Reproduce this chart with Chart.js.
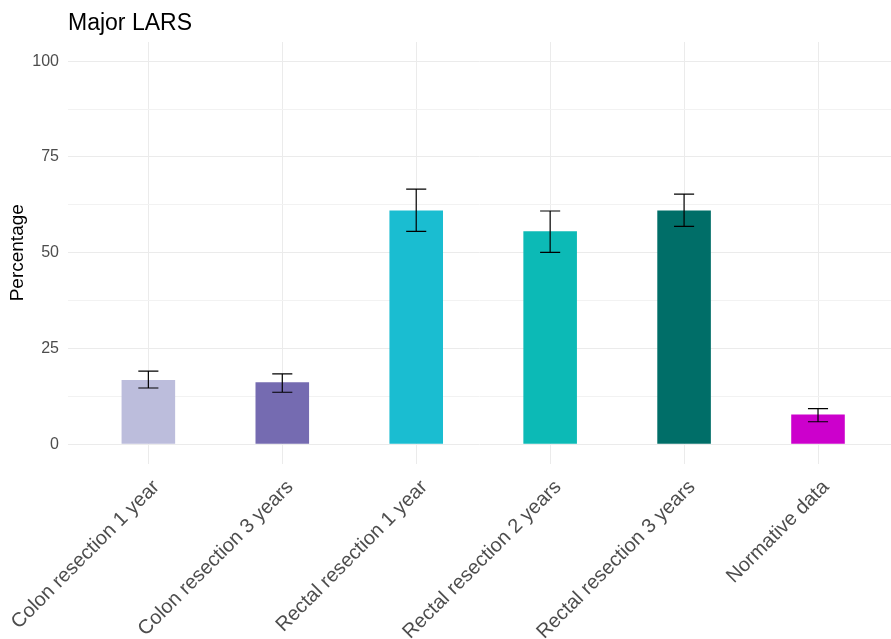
<!DOCTYPE html>
<html>
<head>
<meta charset="utf-8">
<script src="https://cdn.jsdelivr.net/npm/chart.js@4"></script>
<style>
  html, body { margin: 0; padding: 0; background: #fff; overflow: hidden; }
  #wrap { width: 891px; height: 639px; }
</style>
</head>
<body>
<div id="wrap"><canvas id="myChart" width="891" height="639"></canvas></div>
<script>
// categories and values
const categories = ["Colon resection 1 year", "Colon resection 3 years", "Rectal resection 1 year",
    "Rectal resection 2 years", "Rectal resection 3 years", "Normative data"];
const values = [16.8, 16.2, 61.0, 55.6, 61.0, 7.8];
const errLow = [14.7, 13.6, 55.6, 50.1, 56.9, 5.9];
const errHigh = [19.1, 18.4, 66.6, 60.9, 65.3, 9.3];
const barColors = ['#bcbddc', '#756bb1', '#1abdd1', '#0cbab6', '#006e68', '#cc00cc'];
const yTicks = [0, 25, 50, 75, 100];
const yMinor = [12.5, 37.5, 62.5, 87.5];

const FONT = "'Liberation Sans', Arial, sans-serif";

// error bars drawn through the chart scales
const errorBars = {
    id: 'errorBars',
    afterDatasetsDraw(chart) {
        const c = chart.ctx, x = chart.scales.x, y = chart.scales.y;
        c.save();
        c.strokeStyle = '#000';
        c.lineWidth = 1.2;
        for (let i = 0; i < values.length; i++) {
            const px = x.getPixelForValue(i);
            const l = x.getPixelForValue(i - 0.075), r = x.getPixelForValue(i + 0.075);
            const yt = y.getPixelForValue(errHigh[i]), yb = y.getPixelForValue(errLow[i]);
            c.beginPath();
            c.moveTo(px, yt); c.lineTo(px, yb);
            c.moveTo(l, yt); c.lineTo(r, yt);
            c.moveTo(l, yb); c.lineTo(r, yb);
            c.stroke();
        }
        c.restore();
    }
};

// title placed on the panel's left edge, like ggplot
const plotTitle = {
    id: 'plotTitle',
    afterDraw(chart) {
        const c = chart.ctx;
        c.save();
        c.font = '23px ' + FONT;
        c.fillStyle = '#000';
        c.textBaseline = 'alphabetic';
        c.fillText('Major LARS', chart.chartArea.left, 30);
        c.restore();
    }
};

let ctx = document.getElementById('myChart').getContext('2d');
let myChart = new Chart(ctx, {
    type: 'bar',
    data: {
        datasets: [{
            data: values.map((v, i) => ({x: i, y: v})),
            backgroundColor: barColors,
            borderWidth: 0,
            barPercentage: 0.4,
            categoryPercentage: 1
        }]
    },
    options: {
        responsive: false,
        animation: false,
        layout: {padding: {top: 42, right: 0, left: 0, bottom: 0}},
        plugins: {
            legend: {display: false},
            tooltip: {enabled: false}
        },
        scales: {
            x: {
                type: 'linear',
                min: -0.6,
                max: 5.545,
                offset: false,
                border: {display: false},
                grid: {color: '#ebebeb', lineWidth: 1, drawTicks: false, offset: false},
                afterBuildTicks: function (scale) {
                    scale.ticks = categories.map((c, i) => ({value: i}));
                },
                afterFit: function (scale) {
                    scale.height = 175.5;
                    scale.paddingLeft = 0;
                    scale.paddingRight = 0;
                },
                ticks: {
                    autoSkip: false,
                    maxRotation: 45,
                    minRotation: 45,
                    padding: 12,
                    labelOffset: 8,
                    color: '#4d4d4d',
                    font: {size: 20, family: FONT},
                    callback: function (v) { return categories[v]; }
                }
            },
            y: {
                min: -5,
                max: 105,
                border: {display: false},
                afterBuildTicks: function (scale) {
                    scale.ticks = yTicks.concat(yMinor).sort((a, b) => a - b).map(v => ({value: v}));
                },
                afterFit: function (scale) {
                    scale.width = 68;
                },
                grid: {
                    drawTicks: false,
                    color: function (c) { return yTicks.includes(c.tick.value) ? '#ebebeb' : '#f2f2f2'; },
                    lineWidth: 1
                },
                title: {
                    display: true,
                    text: 'Percentage',
                    color: '#000',
                    padding: {top: 6, bottom: 0},
                    font: {size: 19, family: FONT}
                },
                ticks: {
                    padding: 9,
                    color: '#4d4d4d',
                    font: {size: 16, family: FONT},
                    callback: function (v) { return yTicks.includes(v) ? String(v) : ''; }
                }
            }
        }
    },
    plugins: [errorBars, plotTitle]
});
</script>
</body>
</html>
